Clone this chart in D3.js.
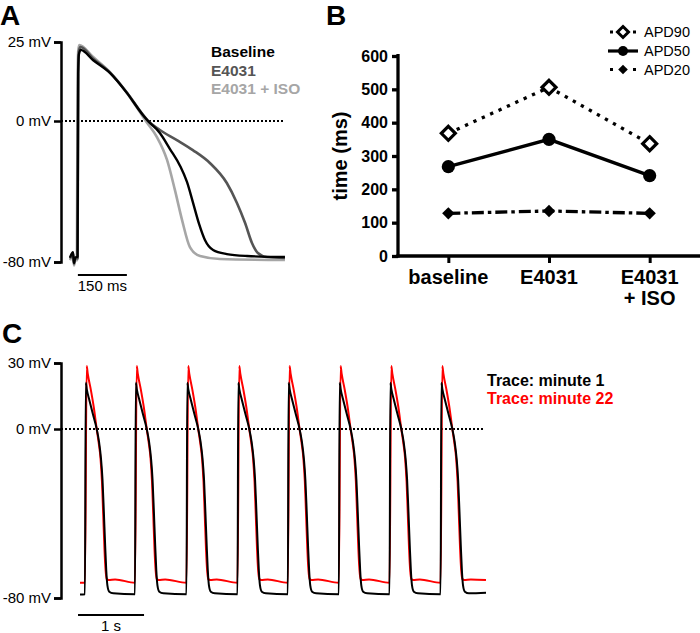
<!DOCTYPE html>
<html><head><meta charset="utf-8">
<script src="https://cdn.jsdelivr.net/npm/d3@7"></script>
<style>
body{margin:0;background:#fff;}
svg{display:block;font-family:"Liberation Sans",Arial,Helvetica,sans-serif;}
</style></head><body>
<svg id="fig" width="700" height="633"></svg>
<script>
// ---------- Panel A data: [time (ms), membrane potential (mV)] ----------
const traceBaseline = [[-6,-77.5],[3,-74.5],[6,-80.5],[10,-77.5],[17,-77],[19,15],[21,21],[26.6,22.5],[64,19.3],[116,15.2],[168,8.9],[217,1.9],[233,0],[269,-6.8],[300,-15.9],[331,-25.5],[352,-34.6],[370,-46],[389,-58.4],[407,-67.5],[432,-73.2],[474,-75.5],[536,-76.6],[652,-77.2]];
const traceE4031 = [[-6,-78],[3,-75],[6,-81],[10,-78],[17,-78],[19,15],[21,22],[26,23.4],[64,19.8],[116,15.4],[168,9],[217,2],[233,0],[269,-5.1],[321,-10.8],[370,-16.5],[422,-23.8],[474,-35.2],[505,-46.5],[530,-57.9],[551,-69.2],[569,-74.9],[597,-77.2],[652,-77.7]];
const traceE4031ISO = [[-6,-79],[3,-76],[6,-82],[10,-79],[15,-79],[17,10],[19,22],[22,24],[64,20.3],[116,15.5],[168,8.9],[208,2.8],[226,0],[260,-9.1],[291,-22.1],[315,-39.1],[337,-56.2],[361,-71.5],[392,-76.6],[453,-78.3],[652,-78.9]];
const legendA = ["Baseline","E4031","E4031 + ISO"];
const axisTicksA = [25,0,-80];

// ---------- Panel B data ----------
const categories = ["baseline","E4031","E4031\n+ ISO"];
const apd90 = [368,506,337];
const apd50 = [268,350,241];
const apd20 = [128,135,128];
const yTicksB = [0,100,200,300,400,500,600];
const seriesNames = ["APD90","APD50","APD20"];

// ---------- Panel C data ----------
const beatOnsets = [0.083,0.841,1.621,2.394,3.156,3.929,4.697,5.470]; // s
// one action potential of each trace, relative to its onset: [dt (s), mV]
const apMinute1 = [[-0.008,-78.2],[0.004,21],[0.02,18],[0.06,13],[0.11,7],[0.170,0],[0.205,-6],[0.235,-14],[0.258,-24],[0.278,-39],[0.298,-55],[0.315,-67],[0.332,-74],[0.36,-77],[0.421,-77.8]];
const apMinute22 = [[-0.008,-72.8],[0.018,28.6],[0.035,25],[0.08,18],[0.125,10],[0.170,0],[0.2,-6.5],[0.228,-14],[0.25,-25],[0.268,-40],[0.288,-57],[0.305,-67],[0.322,-71],[0.35,-71.5],[0.45,-71.2]];
const traceEndsMinute1 = [[0,-78.3],[6.15,-77.5]];
const traceEndsMinute22 = [[0,-72.8],[6.15,-71.5]];
const legendC = ["Trace: minute 1","Trace: minute 22"];
const axisTicksC = [30,0,-80];

const svg = d3.select("#fig");

// ================= Panel A =================
const xA = d3.scaleLinear().domain([0,650]).range([72,284.3]);
const yA = d3.scaleLinear().domain([-80,0,25]).range([262,121,42]);
const gA = svg.append("g");
gA.append("text").attr("x",0).attr("y",25).attr("font-size",28).attr("font-weight","bold").text("A");
const axA = gA.append("g").attr("transform","translate(61,0)")
  .call(d3.axisLeft(yA).tickValues(axisTicksA).tickFormat(d=>d+" mV").tickSize(7).tickPadding(3));
axA.selectAll("path,line").attr("stroke","#000").attr("stroke-width",2.5);
axA.selectAll("text").attr("font-size",15).attr("fill","#000").attr("font-family","Liberation Sans, Arial, sans-serif");
gA.append("line").attr("x1",61).attr("x2",285).attr("y1",yA(0)).attr("y2",yA(0))
  .attr("stroke","#000").attr("stroke-width",2).attr("stroke-dasharray","2,2");
const lineA = d3.line().x(d=>xA(d[0])).y(d=>yA(d[1])).curve(d3.curveMonotoneX);
[[traceE4031ISO,"#a6a6a6",2.6],[traceE4031,"#555555",2.6],[traceBaseline,"#000000",2.4]].forEach(([data,col,w])=>{
  gA.append("path").datum(data).attr("d",lineA).attr("fill","none").attr("stroke",col).attr("stroke-width",w).attr("stroke-linejoin","round");
});
const legColA = ["#000000","#555555","#a6a6a6"];
legendA.forEach((t,i)=>{
  gA.append("text").attr("x",211).attr("y",57+i*18.5).attr("font-size",15.5).attr("font-weight","bold").attr("fill",legColA[i]).text(t);
});
gA.append("line").attr("x1",xA(18)).attr("x2",xA(168)).attr("y1",275).attr("y2",275).attr("stroke","#000").attr("stroke-width",2);
gA.append("text").attr("x",(xA(18)+xA(168))/2).attr("y",291).attr("text-anchor","middle").attr("font-size",15).text("150 ms");

// ================= Panel B =================
const xB = d3.scalePoint().domain(categories).range([398,700]).padding(0.5);
const yB = d3.scaleLinear().domain([0,600]).range([256,56]);
const gB = svg.append("g");
gB.append("text").attr("x",326).attr("y",25).attr("font-size",28).attr("font-weight","bold").text("B");
const axBy = gB.append("g").attr("transform","translate(398,0)")
  .call(d3.axisLeft(yB).tickValues(yTicksB).tickSize(6).tickPadding(4).tickSizeOuter(0));
axBy.selectAll("path,line").attr("stroke","#000").attr("stroke-width",3.3);
axBy.selectAll("text").attr("font-size",16).attr("font-weight","bold").attr("fill","#000").attr("font-family","Liberation Sans, Arial, sans-serif");
axBy.select("path").attr("d",`M0,${yB(600)-2}V${yB(0)+1.6}`);
gB.append("line").attr("x1",396.4).attr("x2",700).attr("y1",yB(0)).attr("y2",yB(0)).attr("stroke","#000").attr("stroke-width",3.3);
const axBx = gB.append("g").attr("transform",`translate(0,${yB(0)})`)
  .call(d3.axisBottom(xB).tickSize(7).tickFormat(""));
axBx.select("path").remove();
axBx.selectAll("line").attr("stroke","#000").attr("stroke-width",3);
categories.forEach(c=>{
  const lines = c.split("\n");
  const t = gB.append("text").attr("x",xB(c)).attr("y",284).attr("text-anchor","middle").attr("font-size",20).attr("font-weight","bold");
  lines.forEach((l,i)=>t.append("tspan").attr("x",xB(c)).attr("dy",i?21:0).text(l));
});
gB.append("text").attr("transform",`translate(347,${yB(300)}) rotate(-90)`).attr("text-anchor","middle").attr("font-size",20).attr("font-weight","bold").text("time (ms)");

const lineB = d3.line().x((d,i)=>xB(categories[i])).y(d=>yB(d));
gB.append("path").datum(apd90).attr("d",lineB).attr("fill","none").attr("stroke","#000").attr("stroke-width",3.3).attr("stroke-dasharray","3.3,5.9");
gB.append("path").datum(apd50).attr("d",lineB).attr("fill","none").attr("stroke","#000").attr("stroke-width",3.3);
gB.append("path").datum(apd20).attr("d",lineB).attr("fill","none").attr("stroke","#000").attr("stroke-width",3.3).attr("stroke-dasharray","12,4,3.5,4");
const diamond = (x,y,r)=>`M${x},${y-r}L${x+r},${y}L${x},${y+r}L${x-r},${y}Z`;
apd90.forEach((v,i)=>gB.append("path").attr("d",diamond(xB(categories[i]),yB(v),7)).attr("fill","#fff").attr("stroke","#000").attr("stroke-width",3.2));
apd50.forEach((v,i)=>gB.append("circle").attr("cx",xB(categories[i])).attr("cy",yB(v)).attr("r",6.6).attr("fill","#000"));
apd20.forEach((v,i)=>gB.append("path").attr("d",diamond(xB(categories[i]),yB(v),6.2)).attr("fill","#000"));

// legend B
const legY = [32,51,69.5];
const lx0 = 608, lx1 = 638, lxc = 623;
gB.append("line").attr("x1",lx0+2).attr("x2",lx1).attr("y1",legY[0]).attr("y2",legY[0]).attr("stroke","#000").attr("stroke-width",3.2).attr("stroke-dasharray","3,8.5");
gB.append("path").attr("d",diamond(lxc,legY[0],5.5)).attr("fill","#fff").attr("stroke","#000").attr("stroke-width",3);
gB.append("line").attr("x1",lx0).attr("x2",lx1).attr("y1",legY[1]).attr("y2",legY[1]).attr("stroke","#000").attr("stroke-width",3.2);
gB.append("circle").attr("cx",lxc).attr("cy",legY[1]).attr("r",5).attr("fill","#000");
gB.append("line").attr("x1",lx0+2).attr("x2",lx1).attr("y1",legY[2]).attr("y2",legY[2]).attr("stroke","#000").attr("stroke-width",3.2).attr("stroke-dasharray","3,8.5");
gB.append("path").attr("d",diamond(lxc,legY[2],4.8)).attr("fill","#000");
seriesNames.forEach((n,i)=>gB.append("text").attr("x",644).attr("y",legY[i]+5).attr("font-size",14.5).text(n));

// ================= Panel C =================
const xC = d3.scaleLinear().domain([0,6.15]).range([80,486]);
const yC = d3.scaleLinear().domain([-80,0,30]).range([598,429,363]);
const gC = svg.append("g");
gC.append("text").attr("x",2).attr("y",343).attr("font-size",28).attr("font-weight","bold").text("C");
const axC = gC.append("g").attr("transform","translate(61,0)")
  .call(d3.axisLeft(yC).tickValues(axisTicksC).tickFormat(d=>d+" mV").tickSize(7).tickPadding(3));
axC.selectAll("path,line").attr("stroke","#000").attr("stroke-width",2.5);
axC.selectAll("text").attr("font-size",15).attr("fill","#000").attr("font-family","Liberation Sans, Arial, sans-serif");
gC.append("line").attr("x1",61).attr("x2",485).attr("y1",yC(0)).attr("y2",yC(0))
  .attr("stroke","#000").attr("stroke-width",2).attr("stroke-dasharray","2,2");
function buildTrace(shape, ends){
  const pts=[ends[0]];
  beatOnsets.forEach(t0=>shape.forEach(([dt,v])=>pts.push([t0+dt,v])));
  pts.push(ends[1]);
  return pts;
}
const lineC = d3.line().x(d=>xC(d[0])).y(d=>yC(d[1])).curve(d3.curveMonotoneX);
gC.append("path").datum(buildTrace(apMinute22,traceEndsMinute22)).attr("d",lineC).attr("fill","none").attr("stroke","#ff0000").attr("stroke-width",2).attr("stroke-linejoin","round");
gC.append("path").datum(buildTrace(apMinute1,traceEndsMinute1)).attr("d",lineC).attr("fill","none").attr("stroke","#000").attr("stroke-width",2).attr("stroke-linejoin","round");
const legColC = ["#000","#ff0000"];
legendC.forEach((t,i)=>gC.append("text").attr("x",487).attr("y",386+i*18).attr("font-size",16).attr("font-weight","bold").attr("fill",legColC[i]).text(t));
gC.append("line").attr("x1",xC(-0.03)).attr("x2",xC(0.97)).attr("y1",615).attr("y2",615).attr("stroke","#000").attr("stroke-width",2);
gC.append("text").attr("x",(xC(-0.03)+xC(0.97))/2).attr("y",631).attr("text-anchor","middle").attr("font-size",15).text("1 s");
</script>
</body></html>
